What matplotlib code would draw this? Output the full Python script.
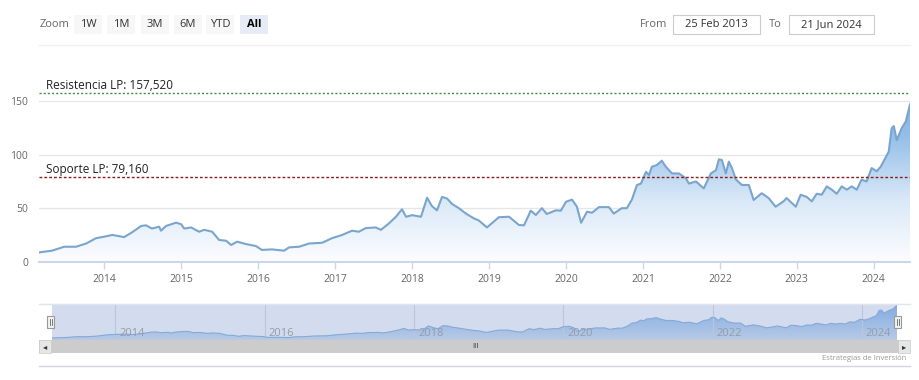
import numpy as np
import pandas as pd
import matplotlib.pyplot as plt
import matplotlib.dates as mdates
from matplotlib.colors import LinearSegmentedColormap
from matplotlib.patches import Rectangle

plt.rcParams['font.family'] = ['Open Sans', 'DejaVu Sans']

# price series
dates = ["2013-02-25", "2013-03-01", "2013-04-28", "2013-06-25", "2013-08-20", "2013-10-07",
         "2013-11-23", "2014-01-01", "2014-02-08", "2014-04-05", "2014-05-13", "2014-06-25",
         "2014-07-18", "2014-08-15", "2014-09-18", "2014-09-27", "2014-10-21", "2014-12-08",
         "2015-01-01", "2015-01-15", "2015-02-17", "2015-03-27", "2015-04-20", "2015-05-28",
         "2015-06-30", "2015-08-02", "2015-08-26", "2015-09-23", "2015-11-04", "2015-12-22",
         "2016-01-19", "2016-03-07", "2016-05-03", "2016-05-27", "2016-07-14", "2016-08-30",
         "2016-10-31", "2016-12-17", "2017-02-03", "2017-03-22", "2017-04-23", "2017-05-26",
         "2017-07-12", "2017-08-06", "2017-09-13", "2017-10-16", "2017-11-14", "2017-12-03",
         "2018-01-01", "2018-02-12", "2018-03-13", "2018-04-05", "2018-04-29", "2018-05-23",
         "2018-06-16", "2018-07-09", "2018-08-11", "2018-09-13", "2018-10-21", "2018-11-13",
         "2018-12-22", "2019-02-17", "2019-04-06", "2019-05-23", "2019-06-16", "2019-07-18",
         "2019-08-11", "2019-09-09", "2019-10-02", "2019-11-14", "2019-12-08", "2020-01-01",
         "2020-01-30", "2020-02-22", "2020-03-13", "2020-04-10", "2020-05-04", "2020-06-06",
         "2020-07-23", "2020-08-15", "2020-09-22", "2020-10-16", "2020-11-09", "2020-12-03",
         "2020-12-22", "2021-01-15", "2021-01-29", "2021-02-12", "2021-03-07", "2021-03-31",
         "2021-04-19", "2021-05-18", "2021-06-20", "2021-07-23", "2021-08-07", "2021-09-09",
         "2021-10-16", "2021-11-19", "2021-12-13", "2021-12-27", "2022-01-10", "2022-01-29",
         "2022-02-12", "2022-02-27", "2022-03-17", "2022-04-15", "2022-05-18", "2022-06-10",
         "2022-07-18", "2022-08-20", "2022-09-22", "2022-10-30", "2022-11-13", "2022-12-27",
         "2023-01-19", "2023-02-17", "2023-03-13", "2023-04-05", "2023-04-29", "2023-05-23",
         "2023-06-16", "2023-07-09", "2023-08-02", "2023-08-26", "2023-09-18", "2023-10-12",
         "2023-11-04", "2023-11-28", "2023-12-22", "2024-01-15", "2024-02-03", "2024-02-27",
         "2024-03-12", "2024-03-26", "2024-04-05", "2024-04-19", "2024-05-13", "2024-06-01",
         "2024-06-21"]
prices = [8.5, 8.8, 10.3, 14.0, 14.0, 17.0,
          22.0, 23.4, 25.0, 23.0, 27.5, 33.4,
          34.0, 31.0, 32.7, 29.0, 33.4, 36.5,
          35.0, 31.0, 32.0, 28.0, 29.8, 28.0,
          20.3, 19.6, 15.6, 18.7, 16.5, 14.6,
          11.0, 11.5, 10.3, 13.4, 14.0, 17.0,
          17.7, 22.0, 25.0, 29.0, 28.0, 31.4,
          32.0, 29.8, 35.8, 42.0, 49.0, 42.0,
          43.5, 42.0, 59.8, 52.0, 48.0, 60.6,
          59.0, 54.0, 50.0, 45.0, 40.5, 38.6,
          32.0, 41.6, 42.0, 34.3, 34.0, 47.7,
          43.7, 50.0, 44.6, 48.0, 47.7, 56.0,
          58.0, 51.4, 36.4, 46.7, 45.8, 51.0,
          51.0, 45.0, 50.0, 50.0, 58.0, 71.7,
          73.0, 84.0, 81.0, 88.8, 90.3, 94.4,
          88.8, 82.5, 82.5, 78.0, 73.0, 75.0,
          68.5, 82.5, 85.5, 95.7, 95.0, 82.5,
          93.5, 87.5, 77.0, 71.7, 71.7, 57.7,
          64.0, 59.5, 51.4, 56.4, 59.5, 51.4,
          62.6, 60.5, 56.4, 63.5, 62.6, 70.4,
          67.3, 63.5, 70.4, 67.3, 70.4, 67.3,
          76.6, 75.0, 87.5, 84.5, 88.8, 97.6,
          102.8, 124.7, 126.8, 113.7, 125.0, 131.0,
          147.0]

resistencia = 157.52
soporte = 79.16
main_years = list(range(2014, 2025))
nav_years = [2014, 2016, 2018, 2020, 2022, 2024]
buttons = ["1W", "1M", "3M", "6M", "YTD", "All"]

W, H = 920, 380
fig = plt.figure(figsize=(W / 100, H / 100), dpi=100)
fig.patch.set_facecolor("white")


def box(x0, y0, x1, y1):
    # pixel box (top-left origin) -> figure fraction rect
    return [x0 / W, 1 - y1 / H, (x1 - x0) / W, (y1 - y0) / H]


def ft(x, y):
    return x / W, 1 - y / H


d = pd.to_datetime(dates)
x = mdates.date2num(d)
y = np.array(prices)
xmin, xmax = x[0], x[-1]

# ---------- main chart ----------
ymax = 175
ax = fig.add_axes(box(39, 261.7 - ymax * 1.07, 910, 261.7))
ax.set_xlim(xmin, xmax)
ax.set_ylim(0, ymax)

cmap = LinearSegmentedColormap.from_list("fillgrad", ["#fcfdff", "#d9e8f7", "#95bfe9", "#74aae2"])
grad = np.linspace(0, 1, 256).reshape(-1, 1)
poly = ax.fill_between(x, y, 0, color="none")
im = ax.imshow(grad, extent=[xmin, xmax, 0, ymax], origin="lower", aspect="auto",
               cmap=cmap, zorder=1)
im.set_clip_path(poly.get_paths()[0], transform=ax.transData)
ax.plot(x, y, color="#7aa5cd", lw=1.5, zorder=3)

for v in [50, 100, 150]:
    ax.axhline(v, color="#e6e6e6", lw=1, zorder=0)
ax.axhline(resistencia, color="#3e8e3e", lw=1, ls=(0, (1.5, 1.5)), zorder=4)
ax.axhline(soporte, color="#8b1c1c", lw=1, ls=(0, (2, 1.5)), zorder=4)
ax.text(mdates.date2num(pd.Timestamp("2013-04-01")), resistencia + 1,
        "Resistencia LP: 157,520", fontsize=8.5, color="#222222", va="bottom")
ax.text(mdates.date2num(pd.Timestamp("2013-04-01")), soporte + 0.5,
        "Soporte LP: 79,160", fontsize=8.5, color="#222222", va="bottom")

ax.set_yticks([0, 50, 100, 150])
ax.tick_params(axis="y", length=0, pad=8, labelsize=7.5, labelcolor="#666666")
ax.set_xticks(mdates.date2num([pd.Timestamp(f"{yr}-01-01") for yr in main_years]))
ax.set_xticklabels([str(yr) for yr in main_years])
ax.tick_params(axis="x", length=5, width=1, color="#ccd6eb", pad=4, labelsize=7.5,
               labelcolor="#666666")
for s in ["top", "right", "left"]:
    ax.spines[s].set_visible(False)
ax.spines["bottom"].set_color("#ccd6eb")
ax.spines["bottom"].set_linewidth(1.5)

# ---------- navigator ----------
nav = fig.add_axes(box(52, 304, 897, 340))
nav.set_xlim(xmin, xmax)
nav.set_ylim(0, 152)
nav.set_facecolor("#d3dcee")
nav_cmap = LinearSegmentedColormap.from_list("navgrad", ["#b7cae6", "#9dbbe4", "#7faadf"])
p2 = nav.fill_between(x, y, 0, color="none")
im2 = nav.imshow(grad, extent=[xmin, xmax, 0, 152], origin="lower", aspect="auto",
                 cmap=nav_cmap, zorder=1)
im2.set_clip_path(p2.get_paths()[0], transform=nav.transData)
nav.plot(x, y, color="#86a9d6", lw=0.8, zorder=3)
for yr in nav_years:
    xv = mdates.date2num(pd.Timestamp(f"{yr}-01-01"))
    nav.axvline(xv, color="#bcc6da", lw=0.8, zorder=2)
    nav.text(xv + 20, 5, str(yr), fontsize=8, color="#949cab", va="bottom", zorder=4)
nav.set_xticks([])
nav.set_yticks([])
for s in nav.spines.values():
    s.set_visible(False)
fig.add_artist(plt.Line2D([39 / W, 910 / W], [1 - 304 / H] * 2, color="#e0e4ee", lw=1))

# navigator handles
for hx in [51, 898]:
    fig.add_artist(Rectangle(ft(hx - 3.5, 328), 7 / W, 12 / H, facecolor="#f2f2f2",
                             edgecolor="#999999", lw=0.8))
    fig.add_artist(plt.Line2D([(hx - 1) / W] * 2, [1 - 325 / H, 1 - 319 / H], color="#666", lw=0.6))
    fig.add_artist(plt.Line2D([(hx + 1) / W] * 2, [1 - 325 / H, 1 - 319 / H], color="#666", lw=0.6))

# scrollbar
fig.add_artist(Rectangle(ft(39, 353), 871 / W, 13 / H, facecolor="#cccccc", edgecolor="none"))
fig.add_artist(Rectangle(ft(39, 353), 12 / W, 13 / H, facecolor="#e6e6e6", edgecolor="#cccccc", lw=0.5))
fig.add_artist(Rectangle(ft(898, 353), 12 / W, 13 / H, facecolor="#e6e6e6", edgecolor="#cccccc", lw=0.5))
fig.text(*ft(45, 346.5), "◂", fontsize=6, color="#333333", ha="center", va="center",
         family="DejaVu Sans")
fig.text(*ft(904, 346.5), "▸", fontsize=6, color="#333333", ha="center", va="center",
         family="DejaVu Sans")
fig.text(*ft(475, 346.5), "III", fontsize=5.5, color="#333333", ha="center", va="center")

# credit and bottom rule
fig.text(*ft(906, 359), "Estrategias de Inversión", fontsize=5.5, color="#999999",
         ha="right", va="center")
fig.add_artist(plt.Line2D([39 / W, 910 / W], [1 - 366 / H] * 2, color="#d4d4e6", lw=1))

# ---------- range selector ----------
fig.text(*ft(40, 24.5), "Zoom", fontsize=8, color="#666666", va="center")
bx = [74, 107, 141, 174, 206, 240]
for lbl, b in zip(buttons, bx):
    sel = lbl == "All"
    fig.add_artist(Rectangle(ft(b, 34), 28 / W, 19 / H,
                             facecolor="#e6ebf5" if sel else "#f7f7f7", edgecolor="none"))
    fig.text(*ft(b + 14, 24.5), lbl, fontsize=8, color="#000000" if sel else "#333333",
             weight="bold" if sel else "normal", ha="center", va="center")
fig.add_artist(plt.Line2D([39 / W, 910 / W], [1 - 45 / H] * 2, color="#f0f0f0", lw=1))

fig.text(*ft(667, 24.5), "From", fontsize=8, color="#666666", ha="right", va="center")
fig.add_artist(Rectangle(ft(673, 34), 87 / W, 19 / H, facecolor="white", edgecolor="#cccccc", lw=0.8))
fig.text(*ft(716.5, 24.5), "25 Feb 2013", fontsize=8, color="#333333", ha="center", va="center")
fig.text(*ft(782, 24.5), "To", fontsize=8, color="#666666", ha="right", va="center")
fig.add_artist(Rectangle(ft(789, 34), 85 / W, 19 / H, facecolor="white", edgecolor="#cccccc", lw=0.8))
fig.text(*ft(831.5, 24.5), "21 Jun 2024", fontsize=8, color="#333333", ha="center", va="center")

fig.savefig("out.png", dpi=100)
